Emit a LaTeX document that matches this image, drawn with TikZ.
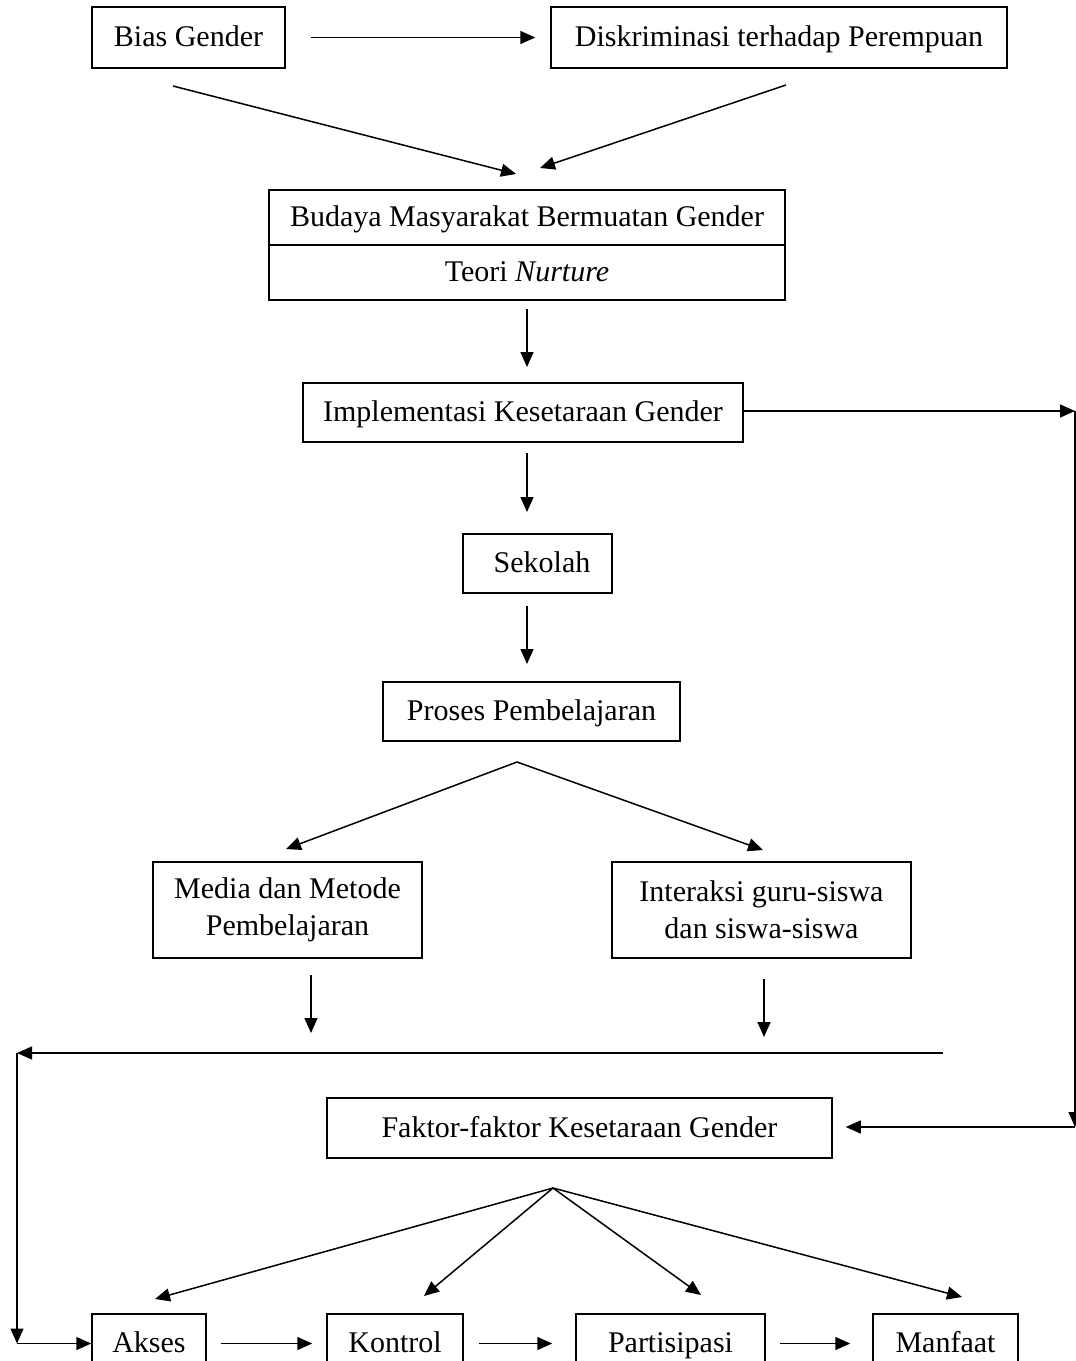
\documentclass[tikz,border=0pt]{standalone}
\usepackage{fontspec}
\setmainfont{Liberation Serif}
\usetikzlibrary{arrows.meta}
\tikzset{%
  myedge/.style={-{Triangle[length=7.5pt,width=6.5pt]}, line width=0.75pt},
  mybox/.style={rectangle, draw=black, line width=0.75pt, inner sep=0pt, align=center,
    font=\fontsize{15}{18.5}\selectfont},
  myline/.style={mybox, text height=12pt, text depth=3pt}
}

\begin{document}
\begin{tikzpicture}[x=0.5pt,y=-0.5pt]
  \useasboundingbox (0,0) rectangle (1076,1361);
  \clip (0,0) rectangle (1076,1361);
  \node[myline, minimum width=96.5pt, minimum height=30.5pt] (bias) at (188.5,37.5) {Bias Gender};
  \node[myline, minimum width=228pt, minimum height=30.5pt] (disk) at (779,37.5) {Diskriminasi terhadap Perempuan};
  \node[myline, minimum width=258pt, minimum height=27.5pt] (budaya) at (527,217.5) {Budaya Masyarakat Bermuatan Gender};
  \node[myline, minimum width=258pt, minimum height=27.5pt] (teori) at (527,272.5) {Teori \textit{Nurture}};
  \node[myline, minimum width=220pt, minimum height=29.5pt] (impl) at (523,412.5) {Implementasi Kesetaraan Gender};
  \node[myline, minimum width=74.5pt, minimum height=29.5pt] (sekolah) at (537.5,563.5) {\hspace{0.3em}Sekolah};
  \node[myline, minimum width=148.5pt, minimum height=29.5pt] (proses) at (531.5,711.5) {Proses Pembelajaran};
  \node[mybox, minimum width=134.5pt, minimum height=48pt] (media) at (287.5,910) {Media dan Metode\\Pembelajaran};
  \node[mybox, minimum width=149.5pt, minimum height=48pt] (interaksi) at (761.5,910) {Interaksi guru-siswa\\dan siswa-siswa};
  \node[myline, minimum width=252.5pt, minimum height=30pt] (faktor) at (579.5,1128) {Faktor-faktor Kesetaraan Gender};
  \node[myline, minimum width=57pt, minimum height=29.5pt] (akses) at (149,1343.5) {Akses};
  \node[myline, minimum width=68pt, minimum height=29.5pt] (kontrol) at (395,1343.5) {Kontrol};
  \node[myline, minimum width=94.5pt, minimum height=29.5pt] (partisipasi) at (670.5,1343.5) {Partisipasi};
  \node[myline, minimum width=72.5pt, minimum height=29.5pt] (manfaat) at (945.5,1343.5) {Manfaat};

  % free ends of the connectors
  \coordinate (b1) at (173,86);
  \coordinate (d1) at (786,85);
  \coordinate (bu1) at (516,174);
  \coordinate (bu2) at (540,168);
  \coordinate (v1) at (527,309);
  \coordinate (v2) at (527,367);
  \coordinate (v3) at (527,453);
  \coordinate (v4) at (527,512);
  \coordinate (v5) at (527,606);
  \coordinate (v6) at (527,664);
  \coordinate (r1) at (1075,411);
  \coordinate (r2) at (1075,1127);
  \coordinate (p0) at (517,762);
  \coordinate (pm) at (286,849);
  \coordinate (pi) at (763,850);
  \coordinate (m1) at (311,975);
  \coordinate (m2) at (311,1033);
  \coordinate (i1) at (764,979);
  \coordinate (i2) at (764,1037);
  \coordinate (l1) at (943,1053);
  \coordinate (l0) at (17,1053);
  \coordinate (l2) at (17,1343.5);
  \coordinate (f0) at (553,1188);
  \coordinate (fa) at (155,1299);
  \coordinate (fk) at (424,1296);
  \coordinate (fp) at (701,1295);
  \coordinate (fm) at (962,1297);

  \draw[myedge, shorten <=12.5pt, shorten >=7.5pt] (bias.east) -- (disk.west);
  \draw[myedge] (b1) -- (bu1);
  \draw[myedge] (d1) -- (bu2);
  \draw[myedge] (v1) -- (v2);
  \draw[myedge] (v3) -- (v4);
  \draw[myedge] (v5) -- (v6);
  \draw[myedge] (impl.east |- r1) -- (r1);
  \draw[myedge] (r1) -- (r2);
  \draw[myedge, shorten >=6.5pt] (r2) -- (faktor.east |- r2);
  \draw[myedge] (p0) -- (pm);
  \draw[myedge] (p0) -- (pi);
  \draw[myedge] (m1) -- (m2);
  \draw[myedge] (i1) -- (i2);
  \draw[myedge] (l1) -- (l0);
  \draw[myedge] (l0) -- (l2);
  \draw[myedge] (l2) -- (akses.west);
  \foreach \t in {fa,fk,fp,fm}
    \draw[myedge] (f0) -- (\t);
  \draw[myedge, shorten <=7pt, shorten >=7pt] (akses.east) -- (kontrol.west);
  \draw[myedge, shorten <=7.5pt, shorten >=11.5pt] (kontrol.east) -- (partisipasi.west);
  \draw[myedge, shorten <=7pt, shorten >=11pt] (partisipasi.east) -- (manfaat.west);
\end{tikzpicture}
\end{document}
